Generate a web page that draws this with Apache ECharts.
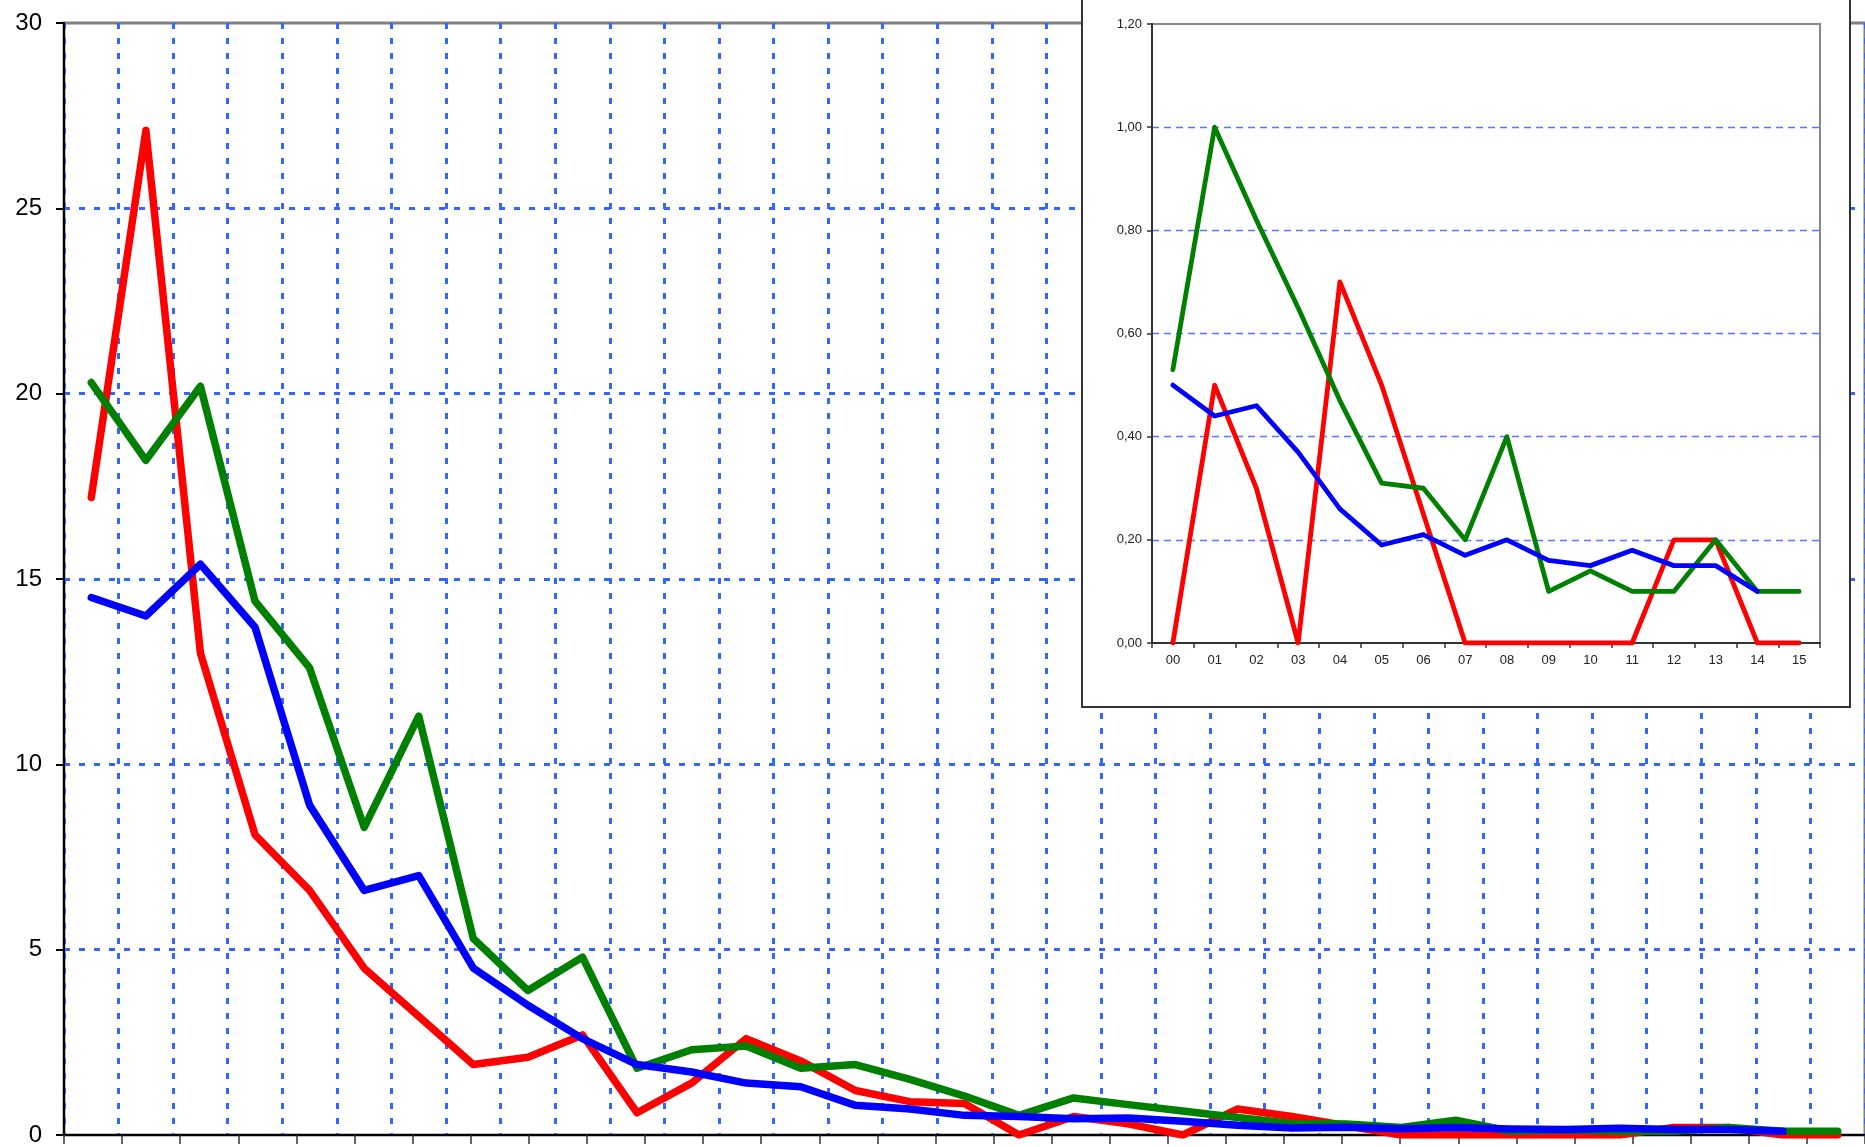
<!DOCTYPE html>
<html>
<head>
<meta charset="utf-8">
<script src="https://cdn.jsdelivr.net/npm/echarts@6/dist/echarts.min.js"></script>
<style>
html,body{margin:0;padding:0;background:#fff;}
#chart{width:1865px;height:1147px;}
</style>
</head>
<body>
<div id="chart"></div>
<script>
// ---- data ----
const mainYears = ['1983','1984','1985','1986','1987','1988','1989','1990','1991','1992','1993','1994','1995','1996','1997','1998','1999','2000','2001','2002','2003','2004','2005','2006','2007','2008','2009','2010','2011','2012','2013','2014','2015'];
const mainRed   = [17.2, 27.1, 13.0, 8.1, 6.6, 4.5, 3.2, 1.9, 2.1, 2.7, 0.6, 1.4, 2.6, 2.0, 1.2, 0.9, 0.85, 0, 0.5, 0.3, 0, 0.7, 0.5, 0.25, 0, 0, 0, 0, 0, 0.2, 0.2, 0, 0];
const mainGreen = [20.3, 18.2, 20.2, 14.4, 12.6, 8.3, 11.3, 5.3, 3.9, 4.8, 1.8, 2.3, 2.4, 1.8, 1.9, 1.5, 1.05, 0.53, 1.0, 0.82, 0.65, 0.47, 0.31, 0.30, 0.20, 0.40, 0.10, 0.14, 0.10, 0.10, 0.20, 0.10, 0.10];
const mainBlue  = [14.5, 14.0, 15.4, 13.7, 8.9, 6.6, 7.0, 4.5, 3.5, 2.6, 1.9, 1.7, 1.4, 1.3, 0.8, 0.7, 0.53, 0.50, 0.44, 0.46, 0.37, 0.26, 0.19, 0.21, 0.17, 0.20, 0.16, 0.15, 0.18, 0.15, 0.15, 0.10, null];
const mainYTicks = [0, 5, 10, 15, 20, 25, 30];
const insetLabels = ['00','01','02','03','04','05','06','07','08','09','10','11','12','13','14','15'];
const insetStart = 17;
const insetRed   = mainRed.slice(insetStart);
const insetGreen = mainGreen.slice(insetStart);
const insetBlue  = mainBlue.slice(insetStart);
const insetYTicks = ['0,00','0,20','0,40','0,60','0,80','1,00','1,20'];
const bottomTickSlots = new Array(31).fill('');

// ---- chart ----
const FONT = '"Liberation Sans", Arial, sans-serif';
const chart = echarts.init(document.getElementById('chart'), null, {renderer: 'canvas'});
const mainDash = {color: '#3366ff', width: 3, type: [6, 9]};
const lineBase = (color, width, z) => ({
  type: 'line', symbol: 'none', smooth: false, z: z,
  lineStyle: {color: color, width: width, cap: 'round', join: 'round'},
  itemStyle: {color: color},
  connectNulls: false
});

chart.setOption({
  backgroundColor: '#ffffff',
  animation: false,
  grid: [
    {left: 64, top: 23, width: 1814, height: 1115, show: true, borderColor: '#808080', borderWidth: 3, backgroundColor: 'transparent', z: 0},
    {left: 1152, top: 24, width: 668, height: 619, show: true, borderColor: '#888888', borderWidth: 2, backgroundColor: '#ffffff', z: 15}
  ],
  graphic: [{
    type: 'rect', z: 10,
    shape: {x: 1082, y: -10, width: 768, height: 717},
    style: {fill: '#ffffff', stroke: '#333333', lineWidth: 2}
  }],
  xAxis: [
    {gridIndex: 0, type: 'category', data: mainYears, boundaryGap: true,
     axisLine: {show: true, lineStyle: {color: '#000', width: 2}},
     axisTick: {show: false}, axisLabel: {show: false},
     splitLine: {show: true, interval: 0, lineStyle: mainDash}},
    {gridIndex: 0, type: 'category', data: bottomTickSlots, position: 'bottom', boundaryGap: true,
     axisLine: {show: false},
     axisTick: {show: true, interval: 0, length: 9, lineStyle: {color: '#333', width: 1.5}},
     axisLabel: {show: false}, splitLine: {show: false}},
    {gridIndex: 1, type: 'category', data: insetLabels, boundaryGap: true, z: 20,
     axisLine: {show: true, lineStyle: {color: '#333', width: 2}},
     axisTick: {show: true, interval: 0, length: 5, lineStyle: {color: '#333', width: 1.5}},
     axisLabel: {color: '#222', fontSize: 13, fontFamily: FONT, margin: 11, interval: 0},
     splitLine: {show: false}}
  ],
  yAxis: [
    {gridIndex: 0, type: 'value', min: mainYTicks[0], max: mainYTicks[mainYTicks.length - 1], interval: mainYTicks[1] - mainYTicks[0],
     axisLine: {show: true, lineStyle: {color: '#000', width: 2}},
     axisTick: {show: true, length: 8, lineStyle: {color: '#000', width: 2}},
     axisLabel: {color: '#000', fontSize: 24, fontFamily: FONT, margin: 22},
     splitLine: {show: true, showMinLine: false, showMaxLine: false, lineStyle: mainDash}},
    {gridIndex: 1, type: 'value', min: 0, max: 1.2, interval: 0.2, z: 20,
     axisLine: {show: true, lineStyle: {color: '#333', width: 2}},
     axisTick: {show: true, length: 5, lineStyle: {color: '#333', width: 1.5}},
     axisLabel: {color: '#222', fontSize: 13, fontFamily: FONT, margin: 10,
       formatter: (v) => insetYTicks[Math.round(v / 0.2)]},
     splitLine: {show: true, showMinLine: false, showMaxLine: false, lineStyle: {color: '#5577ff', width: 1.3, type: [7, 5]}}}
  ],
  series: [
    Object.assign(lineBase('#ff0000', 7.5, 3), {name: 'red', xAxisIndex: 0, yAxisIndex: 0, data: mainRed}),
    Object.assign(lineBase('#008000', 7.5, 3), {name: 'green', xAxisIndex: 0, yAxisIndex: 0, data: mainGreen}),
    Object.assign(lineBase('#0000ff', 7.5, 3), {name: 'blue', xAxisIndex: 0, yAxisIndex: 0, data: mainBlue}),
    Object.assign(lineBase('#ff0000', 4.8, 25), {name: 'red-inset', xAxisIndex: 2, yAxisIndex: 1, data: insetRed}),
    Object.assign(lineBase('#008000', 4.8, 25), {name: 'green-inset', xAxisIndex: 2, yAxisIndex: 1, data: insetGreen}),
    Object.assign(lineBase('#0000ff', 4.8, 25), {name: 'blue-inset', xAxisIndex: 2, yAxisIndex: 1, data: insetBlue})
  ]
});
</script>
</body>
</html>
